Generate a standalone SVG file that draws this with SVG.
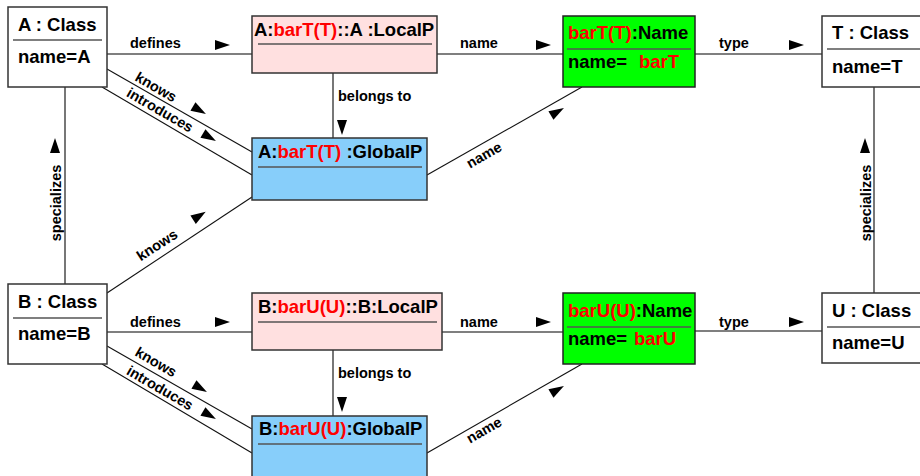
<svg xmlns="http://www.w3.org/2000/svg" width="920" height="476" viewBox="0 0 920 476">
<style>
text{font-family:"Liberation Sans",Arial,Helvetica,sans-serif;font-weight:bold;fill:#000}
.t{font-size:18.5px}
.l{font-size:14.5px}
.r{fill:#f00}
.box{stroke:#333;stroke-width:1.5}
.cls{fill:#fff}
.loc{fill:#ffe0e0}
.glb{fill:#87cefa}
.nm{fill:#00ff00;stroke:#222}
.div{stroke:#555;stroke-width:1.5}
.hl{stroke:#555;stroke-width:1.4;fill:none}
.vl{stroke:#777;stroke-width:2;fill:none}
.dl{stroke:#111;stroke-width:1.1;fill:none}
</style>
<defs>
<polygon id="tri" points="-7,-5 8,0 -7,5" fill="#000"/>
</defs>
<g id="connectors">
<line class="hl" x1="107" y1="54" x2="252" y2="54"/>
<line class="hl" x1="437" y1="54" x2="563" y2="54"/>
<line class="hl" x1="695" y1="54" x2="822" y2="54"/>
<line class="vl" x1="333" y1="73" x2="333" y2="138"/>
<line class="dl" x1="107" y1="69" x2="252" y2="152"/>
<line class="dl" x1="102" y1="87" x2="252" y2="175"/>
<line class="dl" x1="427" y1="175" x2="582" y2="87"/>
<line class="dl" x1="107" y1="293" x2="252" y2="197"/>
<line class="vl" x1="65" y1="87" x2="65" y2="284"/>
<line class="vl" x1="874" y1="87" x2="874" y2="293"/>
<line class="hl" x1="107" y1="332" x2="252" y2="332"/>
<line class="hl" x1="442" y1="332" x2="563" y2="332"/>
<line class="hl" x1="695" y1="331" x2="822" y2="331"/>
<line class="vl" x1="333" y1="350" x2="333" y2="416"/>
<line class="dl" x1="107" y1="346" x2="252" y2="429"/>
<line class="dl" x1="102" y1="364" x2="252" y2="453"/>
<line class="dl" x1="427" y1="453" x2="582" y2="364"/>
<use href="#tri" transform="translate(222,45)"/>
<use href="#tri" transform="translate(543,45)"/>
<use href="#tri" transform="translate(796,45)"/>
<use href="#tri" transform="translate(342,127) rotate(90)"/>
<use href="#tri" transform="translate(199,110) rotate(30)"/>
<use href="#tri" transform="translate(209,137) rotate(30)"/>
<use href="#tri" transform="translate(557,112) rotate(-30)"/>
<use href="#tri" transform="translate(865,146) rotate(-90)"/>
<use href="#tri" transform="translate(55,146) rotate(-90)"/>
<use href="#tri" transform="translate(199,216) rotate(-33)"/>
<use href="#tri" transform="translate(222,322)"/>
<use href="#tri" transform="translate(543,322)"/>
<use href="#tri" transform="translate(796,322)"/>
<use href="#tri" transform="translate(342,404) rotate(90)"/>
<use href="#tri" transform="translate(200,388) rotate(30)"/>
<use href="#tri" transform="translate(209,415) rotate(30)"/>
<use href="#tri" transform="translate(557,390) rotate(-30)"/>
<text class="l" x="130" y="48">defines</text>
<text class="l" x="460" y="48">name</text>
<text class="l" x="719" y="48">type</text>
<text class="l" x="338" y="101">belongs to</text>
<text class="l" text-anchor="middle" transform="translate(156,87) rotate(30)" y="5">knows</text>
<text class="l" text-anchor="middle" transform="translate(160,110) rotate(30)" y="5">introduces</text>
<text class="l" text-anchor="middle" transform="translate(484,155) rotate(-30)" y="5">name</text>
<text class="l" text-anchor="middle" transform="translate(157,245) rotate(-33)" y="5">knows</text>
<text class="l" text-anchor="middle" transform="translate(56,203) rotate(-90)" y="5">specializes</text>
<text class="l" text-anchor="middle" transform="translate(866,203) rotate(-90)" y="5">specializes</text>
<text class="l" x="130" y="327">defines</text>
<text class="l" x="460" y="327">name</text>
<text class="l" x="719" y="327">type</text>
<text class="l" x="338" y="378">belongs to</text>
<text class="l" text-anchor="middle" transform="translate(156,362) rotate(30)" y="5">knows</text>
<text class="l" text-anchor="middle" transform="translate(160,388) rotate(30)" y="5">introduces</text>
<text class="l" text-anchor="middle" transform="translate(484,430) rotate(-30)" y="5">name</text>
</g>
<g id="A">
<rect class="box cls" x="8" y="7" width="99" height="80"/>
<line class="div" x1="13" y1="40" x2="102" y2="40"/>
<text class="t" x="18" y="31">A : Class</text>
<text class="t" x="18" y="63">name=A</text>
</g>
<g id="A_LocalP">
<rect class="box loc" x="252" y="16" width="185" height="57"/>
<line class="div" x1="258" y1="44" x2="432" y2="44"/>
<text class="t" x="254" y="36">A:<tspan class="r">barT(T)</tspan>::A :LocalP</text>
</g>
<g id="A_GlobalP">
<rect class="box glb" x="252" y="138" width="175" height="62"/>
<line class="div" x1="258" y1="167" x2="422" y2="167"/>
<text class="t" x="258" y="158">A:<tspan class="r">barT(T)</tspan> :GlobalP</text>
</g>
<g id="barT_Name">
<rect class="box nm" x="563" y="16" width="132" height="71"/>
<line class="div" x1="567" y1="49" x2="691" y2="49"/>
<text class="t" x="568" y="39"><tspan class="r">barT(T)</tspan>:Name</text>
<text class="t" x="568" y="68">name=</text>
<text class="t r" x="639" y="68">barT</text>
</g>
<g id="T">
<rect class="box cls" x="822" y="16" width="120" height="71"/>
<line class="div" x1="827" y1="49" x2="920" y2="49"/>
<text class="t" x="832" y="39">T : Class</text>
<text class="t" x="832" y="73">name=T</text>
</g>
<g id="B">
<rect class="box cls" x="8" y="284" width="99" height="80"/>
<line class="div" x1="13" y1="318" x2="102" y2="318"/>
<text class="t" x="18" y="308">B : Class</text>
<text class="t" x="18" y="340">name=B</text>
</g>
<g id="B_LocalP">
<rect class="box loc" x="252" y="293" width="190" height="57"/>
<line class="div" x1="258" y1="322" x2="437" y2="322"/>
<text class="t" x="258" y="313">B:<tspan class="r">barU(U)</tspan>::B:LocalP</text>
</g>
<g id="B_GlobalP">
<rect class="box glb" x="252" y="416" width="175" height="70"/>
<line class="div" x1="258" y1="444" x2="422" y2="444"/>
<text class="t" x="259" y="435">B:<tspan class="r">barU(U)</tspan>:GlobalP</text>
</g>
<g id="barU_Name">
<rect class="box nm" x="563" y="293" width="132" height="71"/>
<line class="div" x1="567" y1="327" x2="691" y2="327"/>
<text class="t" x="568" y="317"><tspan class="r">barU(U)</tspan>:Name</text>
<text class="t" x="568" y="345">name=</text>
<text class="t r" x="634" y="345">barU</text>
</g>
<g id="U">
<rect class="box cls" x="822" y="293" width="120" height="70"/>
<line class="div" x1="827" y1="327" x2="920" y2="327"/>
<text class="t" x="832" y="317">U : Class</text>
<text class="t" x="832" y="349">name=U</text>
</g>
</svg>
